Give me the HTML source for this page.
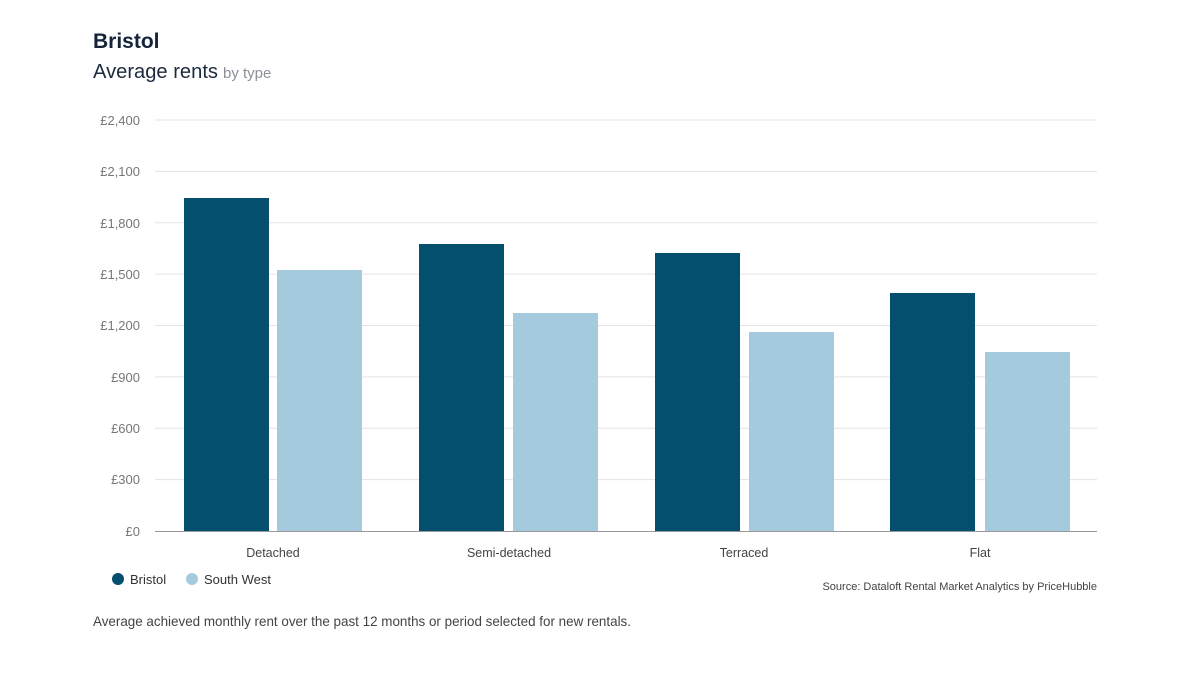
<!DOCTYPE html>
<html><head><meta charset="utf-8"><style>
html,body{margin:0;padding:0;background:#fff;width:1200px;height:675px;overflow:hidden;font-family:"Liberation Sans",sans-serif;}
</style></head><body>
<svg width="1200" height="675" xmlns="http://www.w3.org/2000/svg" font-family="Liberation Sans, sans-serif">
<text x="93" y="48" font-size="21" font-weight="bold" fill="#14243a">Bristol</text>
<text x="93" y="78" font-size="20" fill="#1d2a3d" textLength="125" lengthAdjust="spacingAndGlyphs">Average rents</text>
<text x="223" y="78" font-size="15" fill="#8a8f99">by type</text>
<g stroke="#e3e3e3" stroke-width="1">
<line x1="155" x2="1097" y1="120" y2="120"/><line x1="155" x2="1097" y1="171.4" y2="171.4"/>
<line x1="155" x2="1097" y1="222.8" y2="222.8"/><line x1="155" x2="1097" y1="274.1" y2="274.1"/>
<line x1="155" x2="1097" y1="325.5" y2="325.5"/><line x1="155" x2="1097" y1="376.9" y2="376.9"/>
<line x1="155" x2="1097" y1="428.3" y2="428.3"/><line x1="155" x2="1097" y1="479.6" y2="479.6"/>
</g>
<g font-size="13" fill="#777" text-anchor="end">
<text x="140" y="125">£2,400</text><text x="140" y="176">£2,100</text><text x="140" y="228">£1,800</text>
<text x="140" y="279">£1,500</text><text x="140" y="330">£1,200</text><text x="140" y="382">£900</text>
<text x="140" y="433">£600</text><text x="140" y="484">£300</text><text x="140" y="536">£0</text>
</g>
<g fill="#054f6e">
<rect x="184" y="198" width="85" height="333"/><rect x="419" y="244" width="85" height="287"/>
<rect x="655" y="253" width="85" height="278"/><rect x="890" y="293" width="85" height="238"/>
</g>
<g fill="#a6cadd">
<rect x="277" y="270" width="85" height="261"/><rect x="513" y="313" width="85" height="218"/>
<rect x="749" y="332" width="85" height="199"/><rect x="985" y="352" width="85" height="179"/>
</g>
<line x1="155" x2="1097" y1="531.5" y2="531.5" stroke="#999" stroke-width="1"/>
<g font-size="12.5" fill="#444" text-anchor="middle">
<text x="273" y="557">Detached</text><text x="509" y="557">Semi-detached</text>
<text x="744" y="557">Terraced</text><text x="980" y="557">Flat</text>
</g>
<circle cx="118" cy="579" r="6" fill="#054f6e"/><text x="130" y="584" font-size="13" fill="#333">Bristol</text>
<circle cx="192" cy="579" r="6" fill="#a6cadd"/><text x="204" y="584" font-size="13" fill="#333">South West</text>
<text x="1097" y="590" font-size="11" fill="#444" text-anchor="end">Source: Dataloft Rental Market Analytics by PriceHubble</text>
<text x="93" y="626" font-size="14" fill="#444" textLength="538" lengthAdjust="spacingAndGlyphs">Average achieved monthly rent over the past 12 months or period selected for new rentals.</text>
</svg>
</body></html>
